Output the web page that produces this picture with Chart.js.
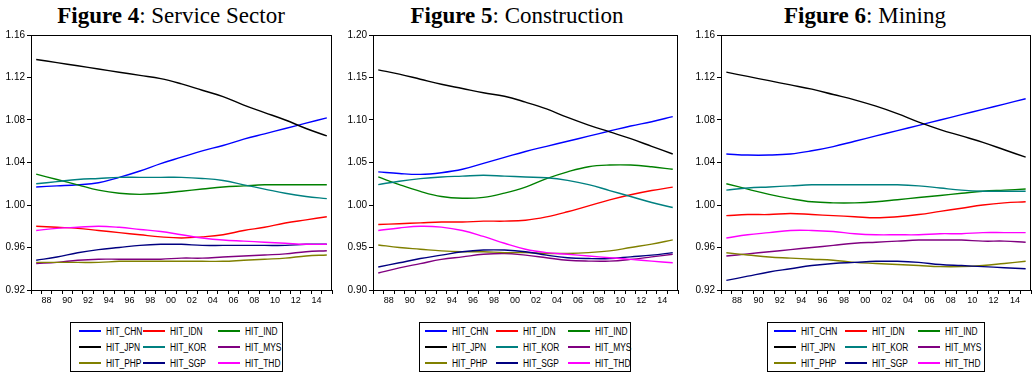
<!DOCTYPE html>
<html>
<head>
<meta charset="utf-8">
<script src="https://cdn.jsdelivr.net/npm/chart.js@4.4.1/dist/chart.umd.min.js"></script>
<style>
  body { margin: 0; background: #fff; width: 1033px; height: 373px; overflow: hidden; position: relative; }
  .title { position: absolute; top: 4px; font-family: "Liberation Serif", "Times New Roman", serif; font-size: 23px; line-height: 23px; white-space: nowrap; transform: translateX(-50%); color: #000; }
  .title b { font-weight: bold; }
  canvas { position: absolute; }
  .lgbox { position: absolute; border: 1px solid #000; box-sizing: border-box; background: #fff; }
  .lgrow { position: absolute; left: 0; height: 16px; display: flex; align-items: center; white-space: nowrap; font-family: "Liberation Sans", Arial, sans-serif; font-size: 10px; color: #000; }
  .lgrow .txt { display: inline-block; transform: scaleX(0.84); transform-origin: left center; }
  .sw { display: inline-block; width: 22px; height: 2px; margin-right: 5px; }
</style>
</head>
<body>
<script>
// x axis labels, 1987 - 2015
const yearLabels = ["87","88","89","90","91","92","93","94","95","96","97","98","99","00","01","02","03","04","05","06","07","08","09","10","11","12","13","14","15"];
const sampleYears = ["87","89","91","93","95","97","99","01","03","05","07","09","11","13","15"];

const seriesNames = ["HIT_CHN","HIT_IDN","HIT_IND","HIT_JPN","HIT_KOR","HIT_MYS","HIT_PHP","HIT_SGP","HIT_THD"];
const seriesColors = ["#0000ff","#ff0000","#008000","#000000","#008080","#800080","#808000","#000080","#ff00ff"];

// Figure 4: Service Sector
const serviceCHN = [1.017,1.018,1.019,1.021,1.026,1.032,1.039,1.045,1.051,1.056,1.062,1.067,1.072,1.077,1.082];
const serviceIDN = [0.980,0.979,0.978,0.976,0.974,0.972,0.970,0.969,0.970,0.972,0.976,0.979,0.983,0.986,0.989];
const serviceIND = [1.029,1.024,1.019,1.014,1.011,1.010,1.011,1.013,1.015,1.017,1.018,1.019,1.019,1.019,1.019];
const serviceJPN = [1.137,1.134,1.131,1.128,1.125,1.122,1.119,1.114,1.108,1.102,1.094,1.087,1.080,1.072,1.065];
const serviceKOR = [1.020,1.022,1.024,1.025,1.026,1.026,1.026,1.026,1.025,1.023,1.019,1.015,1.011,1.008,1.006];
const serviceMYS = [0.945,0.946,0.948,0.949,0.949,0.949,0.949,0.950,0.950,0.951,0.952,0.953,0.954,0.956,0.957];
const servicePHP = [0.946,0.946,0.946,0.946,0.947,0.947,0.947,0.947,0.947,0.947,0.948,0.949,0.950,0.952,0.953];
const serviceSGP = [0.948,0.951,0.955,0.958,0.960,0.962,0.963,0.963,0.962,0.962,0.962,0.962,0.962,0.963,0.963];
const serviceTHD = [0.976,0.978,0.979,0.980,0.979,0.977,0.975,0.972,0.969,0.967,0.966,0.965,0.964,0.963,0.963];

// Figure 5: Construction
const constrCHN = [1.039,1.037,1.036,1.038,1.042,1.049,1.056,1.063,1.069,1.075,1.081,1.087,1.093,1.098,1.104];
const constrIDN = [0.977,0.978,0.979,0.980,0.980,0.981,0.981,0.982,0.986,0.992,0.999,1.006,1.012,1.017,1.021];
const constrIND = [1.033,1.024,1.016,1.010,1.008,1.009,1.014,1.021,1.031,1.039,1.045,1.047,1.047,1.045,1.042];
const constrJPN = [1.159,1.154,1.148,1.142,1.137,1.132,1.128,1.121,1.113,1.103,1.094,1.086,1.078,1.069,1.060];
const constrKOR = [1.024,1.028,1.031,1.033,1.034,1.035,1.034,1.033,1.032,1.029,1.024,1.017,1.010,1.003,0.997];
const constrMYS = [0.920,0.926,0.931,0.936,0.939,0.942,0.943,0.941,0.938,0.935,0.934,0.934,0.936,0.939,0.942];
const constrPHP = [0.953,0.950,0.948,0.946,0.945,0.945,0.944,0.944,0.943,0.943,0.944,0.946,0.950,0.954,0.959];
const constrSGP = [0.927,0.932,0.937,0.941,0.945,0.947,0.947,0.945,0.941,0.938,0.937,0.937,0.939,0.941,0.944];
const constrTHD = [0.970,0.973,0.975,0.974,0.970,0.963,0.955,0.948,0.944,0.942,0.940,0.938,0.936,0.934,0.932];

// Figure 6: Mining
const miningCHN = [1.048,1.047,1.047,1.048,1.051,1.055,1.060,1.065,1.070,1.075,1.080,1.085,1.090,1.095,1.100];
const miningIDN = [0.990,0.991,0.991,0.992,0.991,0.990,0.989,0.988,0.989,0.991,0.994,0.997,1.000,1.002,1.003];
const miningIND = [1.020,1.015,1.010,1.006,1.003,1.002,1.002,1.003,1.005,1.007,1.009,1.011,1.013,1.014,1.015];
const miningJPN = [1.125,1.121,1.117,1.113,1.109,1.104,1.099,1.093,1.086,1.078,1.071,1.065,1.059,1.052,1.045];
const miningKOR = [1.014,1.016,1.017,1.018,1.019,1.019,1.019,1.019,1.019,1.018,1.016,1.014,1.013,1.013,1.013];
const miningMYS = [0.952,0.954,0.956,0.958,0.960,0.962,0.964,0.965,0.966,0.967,0.967,0.967,0.966,0.966,0.965];
const miningPHP = [0.955,0.953,0.951,0.950,0.949,0.948,0.946,0.945,0.944,0.943,0.942,0.942,0.943,0.945,0.947];
const miningSGP = [0.929,0.933,0.937,0.940,0.943,0.945,0.946,0.947,0.947,0.946,0.944,0.943,0.942,0.941,0.940];
const miningTHD = [0.969,0.972,0.974,0.976,0.976,0.975,0.973,0.972,0.972,0.972,0.973,0.973,0.974,0.974,0.974];

const panels = [
    { num: "4", name: "Service Sector", titleX: 171, left: 0, plotLeft: 31, plotRight: 332, yMin: 0.92, yMax: 1.16, yStep: 0.04,
      series: [serviceCHN, serviceIDN, serviceIND, serviceJPN, serviceKOR, serviceMYS, servicePHP, serviceSGP, serviceTHD],
      legend: { left: 70, top: 322, width: 213, height: 50, cols: [8, 72, 147] } },
    { num: "5", name: "Construction", titleX: 517, left: 345, plotLeft: 373, plotRight: 678, yMin: 0.90, yMax: 1.20, yStep: 0.05,
      series: [constrCHN, constrIDN, constrIND, constrJPN, constrKOR, constrMYS, constrPHP, constrSGP, constrTHD],
      legend: { left: 419, top: 322, width: 212, height: 50, cols: [5, 76, 148] } },
    { num: "6", name: "Mining", titleX: 865, left: 690, plotLeft: 721, plotRight: 1031, yMin: 0.92, yMax: 1.16, yStep: 0.04,
      series: [miningCHN, miningIDN, miningIND, miningJPN, miningKOR, miningMYS, miningPHP, miningSGP, miningTHD],
      legend: { left: 767, top: 322, width: 218, height: 50, cols: [6, 77, 150] } }
];

const canvasTop = 25;
const plotTop = 35;
const plotBottom = 290;
const xAxisHeight = 16;
const tickFont = { family: "'Liberation Sans', Arial, sans-serif", size: 10 };

// frame round the plot area (top and right sides)
const framePlugin = {
    id: "frame",
    afterDraw(chart) {
        const a = chart.chartArea, ctx = chart.ctx;
        ctx.save();
        ctx.strokeStyle = "#000";
        ctx.lineWidth = 1;
        ctx.strokeRect(Math.round(a.left) + 0.5, Math.round(a.top) + 0.5, Math.round(a.right - a.left) - 1, Math.round(a.bottom - a.top));
        ctx.restore();
    }
};

panels.forEach(p => {
    let t = document.createElement("div");
    t.className = "title";
    t.style.left = p.titleX + "px";
    t.innerHTML = "<b>Figure " + p.num + "</b>: " + p.name;
    document.body.appendChild(t);

    let cv = document.createElement("canvas");
    let w = p.plotRight - p.left + 1;
    let h = plotBottom + xAxisHeight - canvasTop;
    cv.width = w; cv.height = h;
    cv.style.left = p.left + "px";
    cv.style.top = canvasTop + "px";
    cv.style.width = w + "px";
    cv.style.height = h + "px";
    document.body.appendChild(cv);

    let datasets = p.series.map((vals, i) => ({
        label: seriesNames[i],
        data: vals.map((v, j) => ({ x: sampleYears[j], y: v })),
        borderColor: seriesColors[i],
        borderWidth: 1.4,
        pointRadius: 0,
        tension: 0.4,
        fill: false,
        order: seriesNames.length - 1 - i
    }));

    new Chart(cv.getContext("2d"), {
        type: "line",
        data: { labels: yearLabels, datasets },
        options: {
            responsive: false,
            animation: false,
            devicePixelRatio: 1,
            layout: { padding: { top: plotTop - canvasTop, right: 1, left: 0, bottom: 0 } },
            plugins: { legend: { display: false }, tooltip: { enabled: false } },
            scales: {
                x: {
                    type: "category",
                    offset: true,
                    border: { display: true, color: "#000", width: 1 },
                    grid: { display: true, offset: true, drawOnChartArea: false, drawTicks: true, tickLength: 4, color: "#000" },
                    ticks: {
                        autoSkip: false, maxRotation: 0, minRotation: 0, padding: 1, color: "#000", font: { ...tickFont, size: 9 },
                        callback: function (value) {
                            let lab = this.getLabelForValue(value);
                            return parseInt(lab, 10) % 2 === 0 ? lab : "";
                        }
                    },
                    afterFit: scale => { scale.height = xAxisHeight; }
                },
                y: {
                    min: p.yMin,
                    max: p.yMax,
                    border: { display: true, color: "#000", width: 1 },
                    grid: { display: true, drawOnChartArea: false, drawTicks: true, tickLength: 4, color: "#000" },
                    ticks: { stepSize: p.yStep, padding: 2, color: "#000", font: tickFont, callback: v => v.toFixed(2) },
                    afterFit: scale => { scale.width = p.plotLeft - p.left; }
                }
            }
        },
        plugins: [framePlugin]
    });

    // legend box: 3 columns x 3 rows
    let lg = document.createElement("div");
    lg.className = "lgbox";
    lg.style.left = p.legend.left + "px";
    lg.style.top = p.legend.top + "px";
    lg.style.width = p.legend.width + "px";
    lg.style.height = p.legend.height + "px";
    lg.style.border = "1px solid #000";
    seriesNames.forEach((n, i) => {
        let item = document.createElement("div");
        item.className = "lgrow";
        item.style.left = p.legend.cols[i % 3] + "px";
        item.style.top = (Math.floor(i / 3) * 16) + "px";
        let sw = document.createElement("span");
        sw.className = "sw";
        sw.style.background = seriesColors[i];
        let txt = document.createElement("span");
        txt.className = "txt";
        txt.textContent = n;
        item.appendChild(sw);
        item.appendChild(txt);
        lg.appendChild(item);
    });
    document.body.appendChild(lg);
});
</script>
</body>
</html>
